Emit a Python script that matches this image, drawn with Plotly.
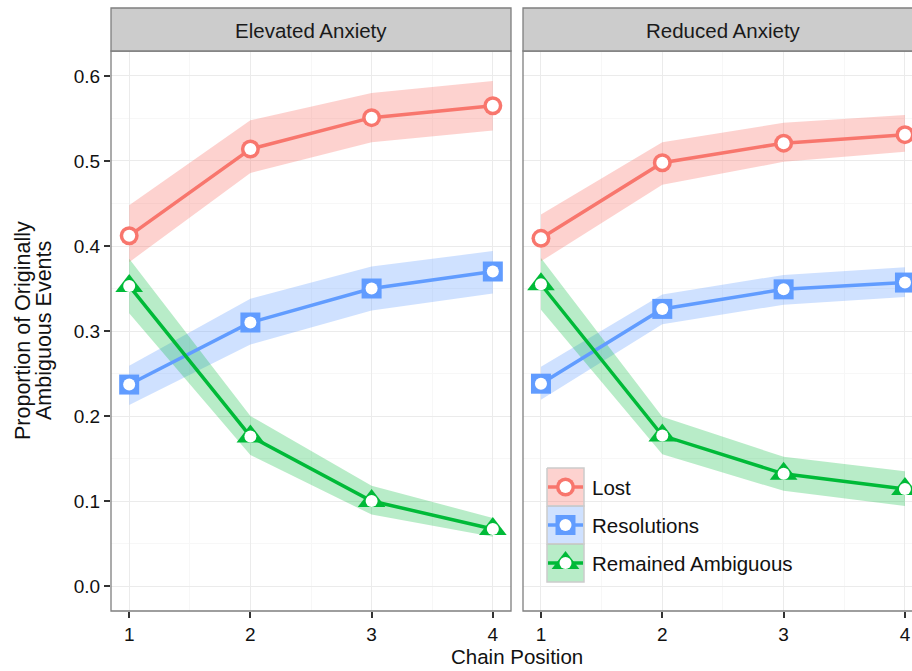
import plotly.graph_objects as go

# ---------------- data ----------------
chain = [1, 2, 3, 4]
series_names = ["Lost", "Resolutions", "Remained Ambiguous"]
panel_names = ["Elevated Anxiety", "Reduced Anxiety"]

elev_lost = [0.412, 0.514, 0.551, 0.565]
elev_lost_lo = [0.381, 0.486, 0.522, 0.536]
elev_lost_hi = [0.448, 0.548, 0.580, 0.594]
elev_res = [0.237, 0.310, 0.350, 0.370]
elev_res_lo = [0.213, 0.284, 0.324, 0.344]
elev_res_hi = [0.259, 0.338, 0.376, 0.394]
elev_amb = [0.353, 0.176, 0.100, 0.067]
elev_amb_lo = [0.321, 0.154, 0.084, 0.058]
elev_amb_hi = [0.385, 0.200, 0.118, 0.080]

red_lost = [0.409, 0.498, 0.521, 0.531]
red_lost_lo = [0.382, 0.472, 0.499, 0.511]
red_lost_hi = [0.437, 0.522, 0.545, 0.554]
red_res = [0.238, 0.326, 0.349, 0.357]
red_res_lo = [0.219, 0.308, 0.331, 0.340]
red_res_hi = [0.258, 0.343, 0.366, 0.375]
red_amb = [0.355, 0.177, 0.132, 0.114]
red_amb_lo = [0.325, 0.155, 0.112, 0.094]
red_amb_hi = [0.386, 0.199, 0.152, 0.135]

x_title = "Chain Position"
y_title_lines = ["Proportion of Originally", "Ambiguous Events"]

# ---------------- styling ----------------
W, H = 912, 671
FONT = "Liberation Sans, Arial, Helvetica, sans-serif"
TXT = 20.5
colors = ["#F8766D", "#619CFF", "#00BA38"]
fills = ["rgba(248,118,109,0.33)", "rgba(97,156,255,0.30)", "rgba(0,186,56,0.28)"]
symbols = ["circle", "square", "triangle-up"]
outer_sizes = [19, 20, 24]
inner_size = 12

panels = [
    dict(xa="x", ya="y",
         mean=[elev_lost, elev_res, elev_amb],
         lo=[elev_lost_lo, elev_res_lo, elev_amb_lo],
         hi=[elev_lost_hi, elev_res_hi, elev_amb_hi]),
    dict(xa="x2", ya="y2",
         mean=[red_lost, red_res, red_amb],
         lo=[red_lost_lo, red_res_lo, red_amb_lo],
         hi=[red_lost_hi, red_res_hi, red_amb_hi]),
]

fig = go.Figure()

for p in panels:
    for i in range(3):
        fig.add_trace(go.Scatter(
            x=chain + chain[::-1], y=p["hi"][i] + p["lo"][i][::-1],
            fill="toself", fillcolor=fills[i], line=dict(width=0),
            mode="lines", xaxis=p["xa"], yaxis=p["ya"],
            showlegend=False, hoverinfo="skip"))
    for i in range(3):
        fig.add_trace(go.Scatter(
            x=chain, y=p["mean"][i], mode="lines",
            line=dict(color=colors[i], width=3.5),
            xaxis=p["xa"], yaxis=p["ya"], showlegend=False, name=series_names[i]))
    for i in range(3):
        fig.add_trace(go.Scatter(
            x=chain, y=p["mean"][i], mode="markers",
            marker=dict(symbol=symbols[i], size=outer_sizes[i], color=colors[i],
                        line=dict(width=0)),
            xaxis=p["xa"], yaxis=p["ya"], showlegend=False, hoverinfo="skip"))
        fig.add_trace(go.Scatter(
            x=chain, y=p["mean"][i], mode="markers",
            marker=dict(symbol="circle", size=inner_size, color="white",
                        line=dict(width=0)),
            xaxis=p["xa"], yaxis=p["ya"], showlegend=False, name=series_names[i]))

# ---------------- manual legend in pixel overlay (x3/y3) ----------------
key_x0, key_x1 = 547, 584
key_tops = [468, 506, 544]
key_h = 38
for i in range(3):
    t = key_tops[i]
    b = t + key_h
    cy = (t + b) / 2
    cx = (key_x0 + key_x1) / 2
    fig.add_trace(go.Scatter(
        x=[key_x0, key_x1, key_x1, key_x0, key_x0], y=[t, t, b, b, t],
        fill="toself", fillcolor=fills[i], mode="lines",
        line=dict(color="#CCCCCC", width=1.5),
        xaxis="x3", yaxis="y3", showlegend=False, hoverinfo="skip"))
    fig.add_trace(go.Scatter(
        x=[key_x0 + 1, key_x1 - 1], y=[cy, cy], mode="lines",
        line=dict(color=colors[i], width=3.5),
        xaxis="x3", yaxis="y3", showlegend=False, hoverinfo="skip"))
    fig.add_trace(go.Scatter(
        x=[cx], y=[cy], mode="markers",
        marker=dict(symbol=symbols[i], size=outer_sizes[i], color=colors[i], line=dict(width=0)),
        xaxis="x3", yaxis="y3", showlegend=False, hoverinfo="skip"))
    fig.add_trace(go.Scatter(
        x=[cx], y=[cy], mode="markers",
        marker=dict(symbol="circle", size=inner_size, color="white", line=dict(width=0)),
        xaxis="x3", yaxis="y3", showlegend=False, hoverinfo="skip"))

annotations = []
for i in range(3):
    annotations.append(dict(
        x=590, y=key_tops[i] + key_h / 2, xref="x3", yref="y3", text=series_names[i],
        showarrow=False, xanchor="left", yanchor="middle",
        font=dict(family=FONT, size=TXT, color="#111")))

# ---------------- layout geometry ----------------
def px(xp):
    return xp / W

def py(yp):
    return (H - yp) / H

plot_top, plot_bot = 51, 611
left_dom = [px(111), px(511)]
right_dom = [px(523), 1.0]
y_dom = [py(plot_bot), py(plot_top)]
yrange = [-0.0294, 0.6294]

grid_major = "#EBEBEB"
grid_minor = "#F7F7F7"

common_x = dict(
    tick0=1, dtick=1, ticks="outside", ticklen=6, tickwidth=1.6, tickcolor="#333333",
    showgrid=True, gridcolor=grid_major, gridwidth=1, zeroline=False, showline=False,
    minor=dict(dtick=0.5, tick0=1, showgrid=True, gridcolor=grid_minor, gridwidth=1),
    tickfont=dict(family=FONT, size=19, color="#111"), fixedrange=True,
)
common_y = dict(
    range=yrange, domain=y_dom, tick0=0, dtick=0.1, tickformat=".1f",
    showgrid=True, gridcolor=grid_major, gridwidth=1, zeroline=False, showline=False,
    minor=dict(dtick=0.05, tick0=0, showgrid=True, gridcolor=grid_minor, gridwidth=1),
    tickfont=dict(family=FONT, size=19, color="#111"), fixedrange=True,
)

shapes = []
strip_top, strip_bot = 8, 51
for dom in (left_dom, right_dom):
    x1 = dom[1] if dom[1] < 1 else 1.05
    shapes.append(dict(type="rect", xref="paper", yref="paper",
                       x0=dom[0], x1=x1, y0=py(plot_bot), y1=py(plot_top),
                       line=dict(color="#7F7F7F", width=1.3), fillcolor="rgba(0,0,0,0)",
                       layer="above"))
    shapes.append(dict(type="rect", xref="paper", yref="paper",
                       x0=dom[0], x1=x1, y0=py(strip_bot), y1=py(strip_top),
                       line=dict(color="#7F7F7F", width=1.3), fillcolor="#CCCCCC",
                       layer="above"))

strip_centers = [(111 + 511) / 2, (523 + 923) / 2]
for name, cxp in zip(panel_names, strip_centers):
    annotations.append(dict(
        x=cxp, y=(strip_top + strip_bot) / 2 + 1, xref="x3", yref="y3", text=name,
        showarrow=False, xanchor="center", yanchor="middle",
        font=dict(family=FONT, size=TXT, color="#1a1a1a")))

annotations.append(dict(
    x=(111 + 923) / 2, y=656, xref="x3", yref="y3", text=x_title, showarrow=False,
    xanchor="center", yanchor="middle", font=dict(family=FONT, size=TXT, color="#111")))
for xline, txt in zip([23, 44], y_title_lines):
    annotations.append(dict(
        x=xline, y=331, xref="x3", yref="y3", text=txt, showarrow=False, textangle=-90,
        xanchor="center", yanchor="middle", font=dict(family=FONT, size=21.5, color="#111")))

fig.update_layout(
    width=W, height=H, margin=dict(l=0, r=0, t=0, b=0, pad=0),
    paper_bgcolor="white", plot_bgcolor="rgba(0,0,0,0)",
    showlegend=False, hovermode=False,
    xaxis=dict(domain=left_dom, range=[0.85, 4.15], anchor="y", **common_x),
    yaxis=dict(anchor="x", ticks="outside", ticklen=6, tickwidth=1.6, tickcolor="#333333",
               showticklabels=True, **common_y),
    xaxis2=dict(domain=right_dom, range=[0.852, 4.058], anchor="y2", **common_x),
    yaxis2=dict(anchor="x2", ticks="", showticklabels=False, **common_y),
    xaxis3=dict(domain=[0, 1], range=[0, W], visible=False, anchor="y3", fixedrange=True),
    yaxis3=dict(domain=[0, 1], range=[H, 0], visible=False, anchor="x3", fixedrange=True),
    shapes=shapes, annotations=annotations,
)

fig.write_html("out.html", config={"displayModeBar": False},
               post_script="document.body.style.margin='0px';document.body.style.overflow='hidden';")
